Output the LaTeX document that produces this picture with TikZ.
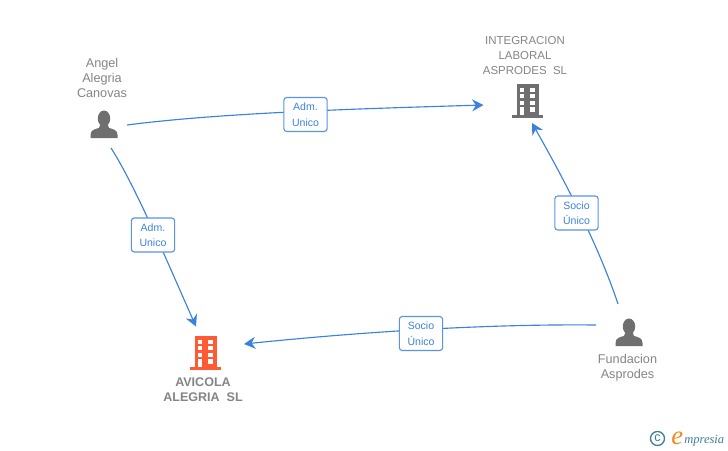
\documentclass[tikz,border=0pt]{standalone}
\usepackage{fontspec}
\setmainfont{Liberation Sans}
\newfontfamily\logofont{Liberation Serif}
\usetikzlibrary{arrows.meta}
\definecolor{linkblue}{HTML}{3B82E0}
\definecolor{icongray}{HTML}{6F6F6F}
\definecolor{textgray}{HTML}{858585}
\definecolor{iconorange}{HTML}{FF5A33}
\definecolor{logoteal}{HTML}{3F7F96}
\definecolor{logoorange}{HTML}{F08A1D}
\tikzset{
  link/.style={draw=linkblue,line width=0.85pt,-{Stealth[length=8.5pt,width=9pt,inset=2.8pt]}},
  tag/.style={draw=linkblue!85,line width=0.85pt,rounded corners=2.2pt,fill=white,text=linkblue,
    font=\fontsize{7.9pt}{11.6pt}\selectfont,align=center,minimum width=32.5pt,minimum height=25.5pt,inner sep=0pt},
  lab/.style={text=textgray,font=\fontsize{9.5pt}{11.3pt}\selectfont,align=center,inner sep=0pt},
  caplab/.style={lab,font=\fontsize{8.6pt}{11.3pt}\selectfont},
  boldlab/.style={lab,font=\fontsize{9.4pt}{11.3pt}\selectfont\bfseries}
}
\newcommand{\personicon}[2]{%
  \begin{scope}[shift={(#1,#2)}]
    \fill[icongray] (0,-19.5) ellipse (6.2 and 8);
    \fill[icongray] (-13.5,0) -- (-13.5,-3) .. controls (-13.5,-8) and (-9,-9) .. (-5,-10)
      -- (-3.5,-14) -- (3.5,-14) -- (5,-10) .. controls (9,-9) and (13.5,-8) .. (13.5,-3) -- (13.5,0) -- cycle;
  \end{scope}}
\newcommand{\buildingicon}[3]{%
  \begin{scope}[shift={(#1,#2)}]
    \fill[#3] (-11,-34) rectangle (11,-3);
    \fill[#3] (-15.5,-3) rectangle (15.5,0);
    \fill[white] (-7.7,-30) rectangle (-3.3,-25.6);
    \fill[white] (2,-30) rectangle (7,-25.6);
    \fill[white] (-7.7,-24) rectangle (-3.3,-19.7);
    \fill[white] (2,-24) rectangle (7,-19.7);
    \fill[white] (-7.7,-17) rectangle (-3.3,-12.7);
    \fill[white] (2,-17) rectangle (7,-12.7);
    \fill[white] (-7.7,-10.7) rectangle (-3.3,-3);
    \fill[white] (2,-10.7) rectangle (7,-5.7);
  \end{scope}}
\begin{document}
\begin{tikzpicture}[x=0.75pt,y=-0.75pt]
\useasboundingbox (0,0) rectangle (728,450);
\fill[white] (0,0) rectangle (728,450);
% icons
\personicon{104}{138}
\personicon{629}{346}
\buildingicon{527.5}{118}{icongray}
\buildingicon{205.5}{370}{iconorange}
% labels
\node[lab] (angel) at (102,78) {Angel\\Alegria\\Canovas};
\node[caplab] (integ) at (525,55.5) {INTEGRACION\\LABORAL\\ASPRODES\ \ SL};
\node[boldlab] (avicola) at (203,389.5) {AVICOLA\\ALEGRIA\ \ SL};
\node[lab] (fund) at (627.5,368) {Fundacion\\Asprodes};
% connector ends
\coordinate (a1) at (127,125);
\coordinate (a2) at (111,148);
\coordinate (i1) at (483.5,105);
\coordinate (i2) at (532,123);
\coordinate (v1) at (196,326.5);
\coordinate (v2) at (244,344);
\coordinate (f1) at (618,304);
\coordinate (f2) at (596,325);
% connectors
\draw[link] (a1) .. controls (220,113) and (350,109) .. (i1);
\draw[link] (a2) .. controls (135,185) and (170,268) .. (v1);
\draw[link] (f1) .. controls (600,250) and (570,190) .. (i2);
\draw[link] (f2) .. controls (500,324) and (380,330) .. (v2);
% tags
\node[tag] (t1) at (305.5,114.5) {Adm.\\Unico};
\node[tag] (t2) at (153,235) {Adm.\\Unico};
\node[tag] (t3) at (576.5,213) {Socio\\Único};
\node[tag] (t4) at (421,333.5) {Socio\\Único};
% logo
\node[circle,draw=logoteal,line width=1pt,minimum size=10.5pt,inner sep=0pt,text=logoteal,font=\fontsize{9.5pt}{9.5pt}\selectfont] (copy) at (657.5,438.5) {c};
\node[inner sep=0pt,anchor=base west,text=logoorange,font=\logofont\itshape\fontsize{20pt}{20pt}\selectfont] (logoe) at (671,444.5) {e};
\node[inner sep=0pt,anchor=base west,text=logoteal,font=\logofont\itshape\fontsize{9.4pt}{9pt}\selectfont] (logot) at (684,443) {mpresia};
\end{tikzpicture}
\end{document}
